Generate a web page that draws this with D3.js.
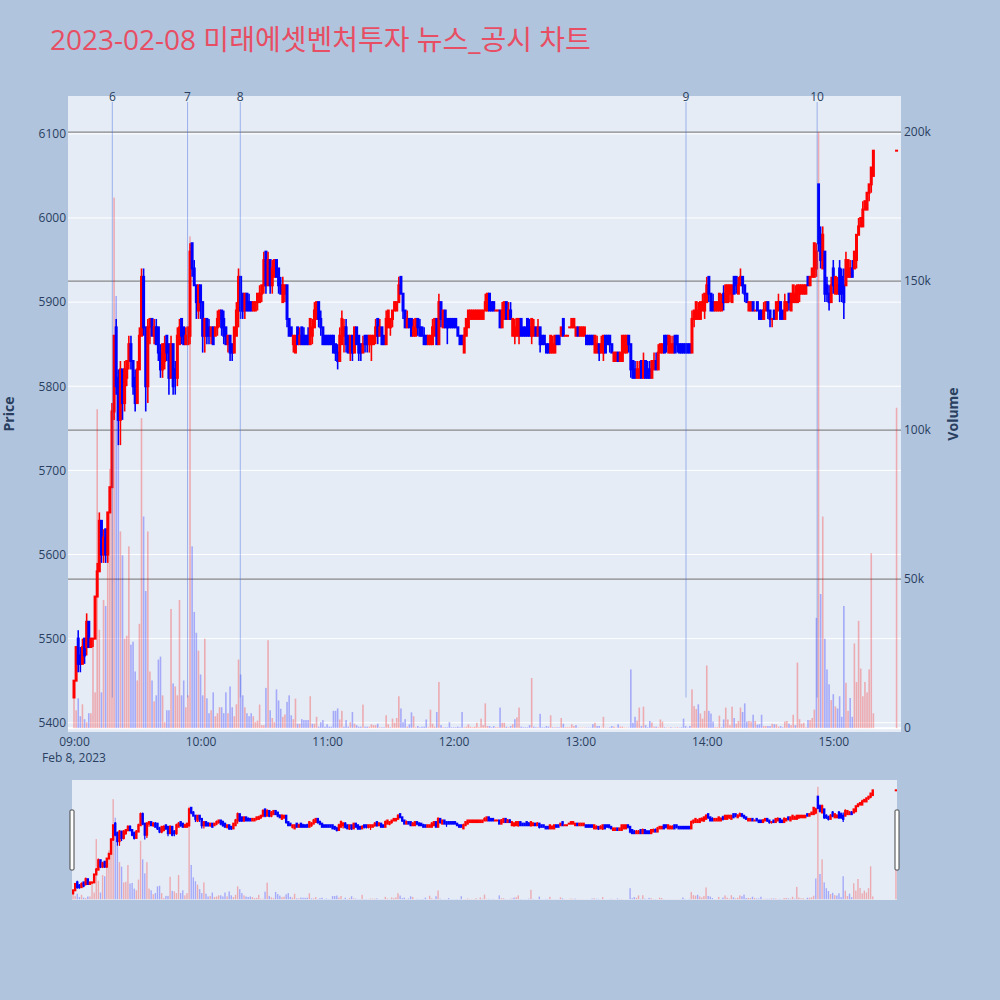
<!DOCTYPE html>
<html>
<head>
<meta charset="utf-8">
<script src="https://cdn.jsdelivr.net/npm/d3@7"></script>
<style>
  body { margin: 0; background: #b0c4de; }
  svg { display: block; font-family: "Open Sans", "Noto Sans CJK KR", sans-serif; }
</style>
</head>
<body>
<div id="chart"></div>
<script>
// title and session
const chartTitle = '2023-02-08 미래에셋벤처투자 뉴스_공시 차트'
const sessionStart = '2023-02-08 09:00'
const dateLabel = 'Feb 8, 2023'

// one-minute candles from 09:00 (10 per line)
const opens = [
  5430,5450,5500,5480,5470,5500,5490,5520,5490,5500,
  5500,5550,5580,5640,5600,5630,5600,5650,5680,5770,
  5870,5810,5760,5820,5780,5810,5830,5850,5830,5810,
  5780,5820,5860,5930,5870,5800,5870,5880,5860,5870,
  5870,5840,5820,5830,5860,5850,5810,5850,5820,5810,
  5850,5880,5870,5850,5850,5860,5970,5940,5920,5890,
  5920,5900,5860,5880,5870,5860,5870,5860,5870,5880,
  5890,5880,5870,5850,5860,5850,5840,5860,5890,5930,
  5910,5890,5910,5900,5900,5890,5890,5900,5900,5910,
  5920,5960,5920,5950,5920,5930,5950,5940,5920,5900,
  5910,5920,5880,5870,5850,5840,5870,5850,5870,5860,
  5860,5860,5850,5860,5870,5880,5900,5880,5870,5860,
  5860,5860,5860,5860,5850,5840,5830,5850,5860,5870,
  5860,5840,5860,5840,5870,5860,5850,5840,5860,5860,
  5850,5850,5850,5860,5880,5860,5870,5860,5850,5870,
  5870,5880,5890,5890,5900,5930,5910,5890,5870,5880,
  5880,5860,5860,5880,5870,5870,5860,5860,5850,5850,
  5850,5860,5880,5850,5900,5870,5890,5880,5880,5880,
  5880,5880,5870,5860,5860,5840,5860,5870,5880,5880,
  5880,5880,5880,5880,5880,5890,5890,5910,5900,5900,
  5890,5890,5890,5870,5880,5900,5880,5890,5860,5860,
  5860,5860,5880,5870,5870,5880,5870,5860,5860,5870,
  5860,5870,5860,5860,5850,5850,5840,5840,5840,5860,
  5860,5860,5880,5860,5860,5870,5870,5870,5860,5870,
  5860,5860,5860,5860,5860,5860,5860,5840,5840,5850,
  5840,5840,5860,5860,5860,5850,5830,5830,5840,5830,
  5830,5840,5840,5860,5850,5830,5820,5810,5810,5830,
  5810,5830,5820,5820,5810,5820,5830,5820,5840,5840,
  5860,5860,5840,5840,5840,5860,5860,5850,5850,5850,
  5850,5850,5850,5840,5880,5880,5880,5880,5890,5890,
  5900,5930,5910,5900,5890,5890,5890,5890,5910,5900,
  5900,5910,5900,5930,5930,5910,5920,5930,5920,5910,
  5890,5890,5900,5890,5900,5890,5890,5880,5890,5900,
  5890,5880,5890,5880,5890,5900,5890,5880,5890,5910,
  5890,5900,5900,5900,5910,5910,5910,5910,5930,5920,
  5930,5930,5940,6040,5980,5940,5960,5920,5910,5900,
  5940,5910,5910,5940,5930,5920,5920,5930,5930,5940,
  5940,5950,5980,5990,5990,6010,6010,6030,6040,6050
]
const highs = [
  5450,5490,5510,5490,5500,5500,5530,5520,5500,5500,
  5550,5590,5650,5640,5630,5630,5650,5680,5780,5860,
  5880,5820,5830,5820,5830,5830,5860,5860,5830,5820,
  5830,5870,5940,5940,5870,5880,5880,5880,5880,5880,
  5870,5850,5850,5860,5860,5850,5860,5850,5830,5870,
  5880,5880,5870,5870,5870,5970,5970,5950,5920,5920,
  5920,5900,5880,5880,5880,5870,5870,5870,5890,5890,
  5890,5890,5870,5860,5860,5850,5870,5900,5940,5930,
  5910,5910,5910,5910,5900,5900,5900,5910,5920,5920,
  5960,5960,5960,5950,5950,5950,5950,5940,5930,5930,
  5920,5920,5880,5870,5860,5860,5870,5870,5870,5870,
  5860,5870,5880,5880,5900,5900,5900,5890,5870,5860,
  5860,5860,5860,5860,5850,5850,5870,5890,5880,5880,
  5860,5860,5860,5870,5870,5860,5850,5860,5860,5860,
  5860,5860,5860,5880,5880,5880,5870,5860,5890,5890,
  5880,5890,5900,5900,5930,5930,5910,5890,5890,5880,
  5880,5880,5880,5880,5880,5870,5870,5860,5860,5860,
  5880,5880,5880,5910,5900,5890,5890,5880,5880,5880,
  5880,5880,5870,5860,5860,5870,5880,5890,5890,5890,
  5890,5890,5890,5890,5890,5910,5910,5910,5900,5900,
  5890,5890,5890,5900,5900,5900,5900,5900,5880,5880,
  5880,5880,5880,5870,5870,5880,5880,5880,5880,5870,
  5880,5870,5860,5860,5850,5850,5860,5860,5860,5860,
  5860,5870,5880,5860,5860,5870,5880,5880,5870,5870,
  5870,5870,5870,5860,5860,5860,5860,5860,5860,5850,
  5860,5860,5860,5860,5860,5850,5840,5840,5840,5840,
  5860,5860,5860,5860,5850,5830,5830,5830,5830,5830,
  5840,5830,5830,5830,5830,5840,5840,5850,5850,5850,
  5860,5860,5860,5860,5860,5860,5860,5850,5850,5850,
  5850,5850,5850,5890,5890,5900,5900,5900,5910,5910,
  5930,5930,5910,5910,5900,5900,5910,5910,5920,5920,
  5920,5920,5920,5930,5930,5930,5940,5930,5920,5910,
  5900,5900,5900,5890,5900,5890,5890,5900,5900,5900,
  5890,5880,5890,5900,5910,5900,5890,5910,5900,5910,
  5910,5920,5920,5920,5920,5920,5920,5920,5930,5930,
  5940,5970,5970,6040,5990,5990,5960,5930,5920,5930,
  5950,5930,5930,5950,5940,5940,5960,5950,5950,5950,
  5960,5980,6000,6000,6020,6020,6030,6040,6060,6080
]
const lows = [
  5430,5450,5460,5460,5470,5470,5480,5490,5490,5490,
  5500,5550,5580,5590,5590,5590,5590,5650,5680,5760,
  5790,5730,5730,5760,5770,5800,5820,5820,5790,5770,
  5780,5820,5860,5860,5770,5780,5850,5860,5850,5850,
  5830,5810,5810,5820,5830,5790,5810,5790,5790,5800,
  5850,5850,5850,5850,5850,5850,5930,5920,5880,5880,
  5880,5840,5840,5850,5850,5850,5850,5860,5860,5870,
  5860,5850,5850,5840,5830,5830,5840,5860,5870,5880,
  5880,5880,5890,5890,5890,5890,5890,5890,5900,5900,
  5910,5910,5920,5910,5910,5930,5930,5910,5910,5900,
  5900,5870,5860,5860,5840,5840,5850,5850,5850,5850,
  5850,5850,5850,5850,5870,5880,5870,5860,5850,5850,
  5850,5850,5850,5840,5830,5820,5830,5850,5840,5840,
  5840,5830,5830,5840,5850,5830,5830,5840,5840,5840,
  5840,5830,5850,5850,5850,5860,5850,5850,5850,5870,
  5860,5870,5890,5890,5900,5910,5880,5870,5870,5870,
  5860,5860,5860,5860,5860,5860,5850,5850,5850,5850,
  5850,5860,5850,5850,5870,5870,5870,5850,5870,5870,
  5870,5870,5860,5850,5850,5840,5860,5870,5880,5880,
  5880,5880,5880,5880,5880,5890,5890,5890,5890,5890,
  5890,5890,5870,5870,5880,5880,5880,5880,5860,5850,
  5860,5850,5860,5860,5860,5860,5860,5850,5860,5860,
  5860,5840,5850,5850,5840,5840,5840,5840,5840,5850,
  5850,5860,5860,5860,5860,5870,5870,5870,5860,5860,
  5860,5860,5860,5850,5850,5850,5850,5840,5840,5830,
  5840,5830,5840,5850,5840,5840,5830,5830,5830,5830,
  5830,5840,5840,5840,5810,5810,5810,5810,5810,5810,
  5810,5810,5810,5810,5810,5820,5820,5820,5840,5840,
  5840,5840,5840,5840,5840,5840,5840,5840,5840,5840,
  5840,5840,5840,5840,5870,5880,5880,5880,5890,5880,
  5900,5900,5890,5890,5890,5890,5890,5890,5890,5900,
  5900,5900,5900,5910,5910,5910,5920,5910,5900,5900,
  5890,5890,5890,5890,5890,5880,5880,5880,5890,5880,
  5870,5870,5880,5880,5890,5880,5880,5880,5890,5890,
  5890,5900,5900,5900,5900,5910,5910,5910,5920,5920,
  5930,5930,5930,5960,5940,5940,5900,5900,5890,5900,
  5910,5910,5910,5900,5900,5880,5920,5930,5930,5930,
  5940,5940,5980,5990,5990,6010,6010,6020,6030,6050
]
const closes = [
  5450,5490,5470,5470,5490,5480,5520,5490,5500,5500,
  5550,5580,5640,5600,5620,5600,5650,5680,5770,5860,
  5800,5760,5820,5780,5820,5830,5850,5830,5800,5780,
  5820,5860,5930,5870,5800,5870,5880,5860,5870,5850,
  5840,5820,5850,5850,5840,5810,5850,5800,5810,5860,
  5870,5860,5850,5860,5870,5960,5940,5920,5900,5920,
  5900,5860,5880,5860,5860,5870,5850,5870,5880,5890,
  5870,5860,5850,5860,5840,5840,5870,5890,5930,5890,
  5890,5910,5890,5890,5890,5900,5900,5910,5910,5920,
  5950,5920,5950,5920,5940,5950,5930,5920,5910,5920,
  5920,5880,5860,5860,5860,5860,5850,5860,5850,5850,
  5850,5850,5880,5870,5890,5900,5880,5870,5850,5850,
  5850,5850,5850,5840,5840,5830,5860,5880,5870,5850,
  5840,5860,5840,5870,5850,5840,5840,5850,5850,5850,
  5860,5860,5860,5870,5860,5870,5850,5850,5880,5890,
  5880,5890,5900,5900,5920,5910,5890,5870,5880,5870,
  5860,5870,5880,5870,5860,5860,5850,5850,5860,5860,
  5870,5880,5850,5900,5880,5890,5870,5870,5870,5870,
  5870,5870,5860,5850,5850,5860,5880,5890,5890,5890,
  5890,5890,5890,5890,5890,5900,5910,5890,5890,5890,
  5890,5890,5870,5890,5900,5880,5890,5880,5880,5870,
  5880,5880,5860,5860,5860,5860,5860,5880,5870,5860,
  5870,5850,5850,5850,5840,5840,5860,5850,5860,5850,
  5850,5870,5860,5860,5860,5870,5880,5880,5870,5860,
  5870,5870,5870,5850,5850,5850,5850,5860,5850,5840,
  5850,5860,5840,5850,5850,5840,5840,5840,5830,5840,
  5860,5860,5860,5850,5820,5810,5810,5820,5820,5810,
  5830,5810,5810,5810,5830,5830,5820,5840,5850,5850,
  5840,5850,5860,5850,5850,5840,5850,5840,5840,5840,
  5840,5840,5840,5880,5890,5900,5890,5900,5900,5910,
  5920,5910,5890,5890,5900,5900,5910,5900,5900,5920,
  5920,5920,5920,5910,5920,5920,5930,5920,5910,5900,
  5900,5900,5890,5890,5890,5880,5880,5890,5900,5890,
  5880,5880,5880,5900,5900,5880,5880,5900,5900,5900,
  5910,5920,5910,5920,5920,5920,5920,5920,5920,5930,
  5940,5970,5960,5970,5950,5980,5910,5910,5900,5920,
  5920,5930,5920,5910,5910,5900,5950,5950,5940,5930,
  5960,5980,5990,6000,6010,6020,6030,6040,6060,6080
]
// volume per minute, thousands of shares
const volumesK = [
  10,6,10,4,8,3,2,5,5,30,
  12,107,33,12,43,41,60,87,107,178,
  145,95,66,58,30,31,61,28,29,19,
  16,35,104,71,46,66,19,16,9,11,
  23,24,11,2,6,6,40,15,14,11,
  43,11,16,7,11,165,61,39,32,26,
  18,11,30,10,5,6,12,4,5,7,
  7,5,12,5,14,7,4,8,23,18,
  11,7,5,4,5,4,2,2.5,7.9,1,
  1,13.5,29.5,6,3.4,2,13,9.3,6.5,3.8,
  4.6,8.8,11,4.3,3,9.9,1.5,1.5,3,2.7,
  2.7,2.7,10.7,1.5,1.5,3.8,0.5,2,2.7,0.5,
  1.3,0.5,0.5,5.8,5.8,6.6,2.9,5.8,0.5,2.7,
  0.5,2,5.4,1.5,1,0.5,0.5,7.9,0.5,0.5,
  0.5,1.3,1,1,1.5,0.3,0.3,0.3,4.3,1.3,
  0.3,3.2,1.8,3.4,10.7,6.6,2,3,0.5,1.3,
  5.3,4,0.3,0.7,0.3,0.5,0.5,2.9,0.3,6.2,
  1.5,0.5,5.4,15.5,1,0.3,0.3,0.3,2,0.3,
  0.3,0.3,0.5,0.3,5.4,0.3,0.5,1.3,0.5,0.3,
  0.5,1.8,0.3,3.2,1,8.3,0.7,0.7,0.3,0.7,
  0.3,0.3,6.9,1.8,1.8,0.5,0.3,0.7,1.3,3,
  3.6,6.9,0.5,0.3,0.3,0.3,1,16.8,0.5,0.3,
  0.3,4.8,0.3,0.3,0.7,0.5,4.3,0.3,0.3,0.3,
  0.3,3.4,1.5,0.3,0.3,0.3,1.3,0.7,1,0.2,
  0.2,0.2,0.2,0.2,0.2,0.2,1.3,1.8,0.7,0.7,
  0.2,3.8,0.2,0.2,0.3,0.7,0.5,0.2,1.3,0.5,
  0.5,0.2,0.2,0.2,19.7,1.8,3.8,2.5,6.9,0.7,
  7.2,1,0.3,2.4,1.9,0.5,0.5,0.3,2.9,2.2,
  0.3,0.2,0.2,0.3,0.2,0.2,0.3,0.2,0.3,3.2,
  0.7,0.2,0.7,13,7.4,6.4,8,4.9,3.2,5.8,
  21,5.8,4.9,2.2,0.3,0.3,4.2,0.3,2.9,6.9,
  2.9,1,7.2,3.4,1.5,2.4,6.9,5.4,8.3,2.2,
  2.4,2.2,4.5,2.4,1.2,1.3,4.5,0.7,0.7,0.7,
  0.7,1.5,1.3,1.3,0.5,0.7,0.3,2.2,2.4,1.5,
  1,4.5,1,22,3,1.5,1.8,0.3,2.7,2.7,
  3.4,6.2,37,200,45,71,30,19.7,14.7,9.4,
  11.4,7.3,6.6,10.7,3.8,41,15.2,5.8,10.1,3.8,
  28.4,15.5,36,20,10.7,15.5,12,19.7,58.7,5
]

// closing auction print
const auctionTime = '2023-02-08 15:30'
const auctionPrice = 6080
const auctionVolumeK = 107.5

// news / disclosure markers
const newsTimes = ['2023-02-08 09:18:10', '2023-02-08 09:53:50', '2023-02-08 10:18:50', '2023-02-08 13:50:10', '2023-02-08 14:52:20']
const newsLabels = ['6', '7', '8', '9', '10']

// ticks
const priceTicks = [5400, 5500, 5600, 5700, 5800, 5900, 6000, 6100]
const volumeTicks = [0, 50, 100, 150, 200]
const hourTicks = ['09:00', '10:00', '11:00', '12:00', '13:00', '14:00', '15:00']

// layout
const W = 1000, H = 1000
const plot = { left: 68, right: 901, top: 96, bottom: 732 }
const slider = { left: 72, right: 897, top: 780, bottom: 900 }
const fontColor = '#2a3f5f'
const upColor = 'red', downColor = 'blue'

const parseMin = d3.timeParse('%Y-%m-%d %H:%M')
const parseSec = d3.timeParse('%Y-%m-%d %H:%M:%S')
const t0 = parseMin(sessionStart)

const candles = opens.map((o, i) => ({
  time: d3.timeMinute.offset(t0, i), open: o, high: highs[i], low: lows[i], close: closes[i], vol: volumesK[i]
}))
candles.push({ time: parseMin(auctionTime), open: auctionPrice, high: auctionPrice, low: auctionPrice, close: auctionPrice, vol: auctionVolumeK })
candles.forEach((d, i) => {
  const prev = i ? candles[i - 1].close : d.open
  d.up = d.close > d.open || (d.close === d.open && d.close >= prev)
  d.volUp = d.close > prev || (d.close === prev && d.up)
})
const lastTime = candles[candles.length - 1].time

// scales
const x = d3.scaleTime().domain([d3.timeSecond.offset(t0, -171), d3.timeSecond.offset(lastTime, 126)]).range([plot.left, plot.right])
const yPrice = d3.scaleLinear().domain([5389, 6145]).range([plot.bottom, plot.top])
const yVol = d3.scaleLinear().domain([-1.3, 212.1]).range([plot.bottom, plot.top])
const xs = d3.scaleTime().domain([d3.timeSecond.offset(t0, -30), d3.timeSecond.offset(lastTime, 30)]).range([slider.left, slider.right])
const yPriceS = yPrice.copy().range([slider.bottom, slider.top])
const yVolS = yVol.copy().range([slider.bottom, slider.top])

// canvas
const svg = d3.select('#chart').append('svg').attr('width', W).attr('height', H)
svg.append('rect').attr('width', W).attr('height', H).attr('fill', '#b0c4de')

const defs = svg.append('defs')
defs.append('clipPath').attr('id', 'clipMain').append('rect')
  .attr('x', plot.left).attr('y', plot.top).attr('width', plot.right - plot.left).attr('height', plot.bottom - plot.top)
defs.append('clipPath').attr('id', 'clipSlider').append('rect')
  .attr('x', slider.left).attr('y', slider.top).attr('width', slider.right - slider.left).attr('height', slider.bottom - slider.top)

// title
svg.append('text').attr('x', 50).attr('y', 50).attr('fill', '#e84e63').attr('font-size', 28).text(chartTitle)

// plot background and grids
svg.append('rect').attr('x', plot.left).attr('y', plot.top)
  .attr('width', plot.right - plot.left).attr('height', plot.bottom - plot.top).attr('fill', '#e5ecf6')

svg.append('g').selectAll('line').data(priceTicks).join('line')
  .attr('x1', plot.left).attr('x2', plot.right)
  .attr('y1', d => yPrice(d)).attr('y2', d => yPrice(d))
  .attr('stroke', '#fff').attr('stroke-width', 1)

svg.append('g').selectAll('line').data(volumeTicks).join('line')
  .attr('x1', plot.left).attr('x2', plot.right)
  .attr('y1', d => yVol(d)).attr('y2', d => yVol(d))
  .attr('stroke', d => d === 0 ? '#fff' : '#888').attr('stroke-width', d => d === 0 ? 2 : 1.2)

// draws volume bars + candles into a group
function drawSeries(g, xScale, yP, yV, barW, bodyW, wickW) {
  g.append('g').selectAll('rect').data(candles).join('rect')
    .attr('x', d => xScale(d.time) - barW / 2).attr('width', barW)
    .attr('y', d => yV(d.vol)).attr('height', d => yV(0) - yV(d.vol))
    .attr('fill', d => d.volUp ? upColor : downColor).attr('opacity', 0.28)

  const c = g.append('g').selectAll('g').data(candles).join('g')
  c.append('line')
    .attr('x1', d => xScale(d.time)).attr('x2', d => xScale(d.time))
    .attr('y1', d => yP(d.high)).attr('y2', d => yP(d.low))
    .attr('stroke', d => d.up ? upColor : downColor).attr('stroke-width', wickW)
  c.append('rect')
    .attr('x', d => xScale(d.time) - bodyW / 2).attr('width', bodyW)
    .attr('y', d => yP(Math.max(d.open, d.close)) - 1)
    .attr('height', d => Math.abs(yP(d.open) - yP(d.close)) + 2)
    .attr('fill', d => d.up ? upColor : downColor)
}

drawSeries(svg.append('g').attr('clip-path', 'url(#clipMain)'), x, yPrice, yVol, 1.6, 3, 1.6)

// news lines
const minLow = d3.min(candles, d => d.low)
const news = newsTimes.map((t, i) => ({ time: parseSec(t), label: newsLabels[i] }))
const newsG = svg.append('g')
newsG.selectAll('line').data(news).join('line')
  .attr('x1', d => x(d.time)).attr('x2', d => x(d.time))
  .attr('y1', plot.top + 6).attr('y2', yPrice(minLow))
  .attr('stroke', 'royalblue').attr('stroke-opacity', 0.45).attr('stroke-width', 1)
newsG.selectAll('text').data(news).join('text')
  .attr('x', d => x(d.time)).attr('y', plot.top + 5)
  .attr('text-anchor', 'middle').attr('font-size', 12).attr('fill', fontColor)
  .text(d => d.label)

// axes
function styleAxis(g) {
  g.select('.domain').remove()
  g.attr('font-family', null).attr('font-size', 12)
  g.selectAll('text').attr('fill', fontColor)
}
svg.append('g').attr('transform', `translate(${plot.left},0)`)
  .call(d3.axisLeft(yPrice).tickValues(priceTicks).tickSize(0).tickPadding(2).tickFormat(d3.format('d'))).call(styleAxis)
svg.append('g').attr('transform', `translate(${plot.right},0)`)
  .call(d3.axisRight(yVol).tickValues(volumeTicks).tickSize(0).tickPadding(3)
    .tickFormat(d => d === 0 ? '0' : d + 'k')).call(styleAxis)
svg.append('g').attr('transform', `translate(0,${plot.bottom})`)
  .call(d3.axisBottom(x).tickValues(hourTicks.map(h => parseMin('2023-02-08 ' + h))).tickSize(0).tickPadding(5)
    .tickFormat(d3.timeFormat('%H:%M'))).call(styleAxis)
svg.append('text').attr('x', x(t0)).attr('y', 762).attr('text-anchor', 'middle')
  .attr('font-size', 12).attr('fill', fontColor).text(dateLabel)

// axis titles
const midY = (plot.top + plot.bottom) / 2
svg.append('text').attr('transform', `translate(14,${midY}) rotate(-90)`).attr('text-anchor', 'middle')
  .attr('font-size', 14).attr('font-weight', 'bold').attr('fill', fontColor).text('Price')
svg.append('text').attr('transform', `translate(958,${midY}) rotate(-90)`).attr('text-anchor', 'middle')
  .attr('font-size', 14).attr('font-weight', 'bold').attr('fill', fontColor).text('Volume')

// range slider
svg.append('rect').attr('x', slider.left).attr('y', slider.top)
  .attr('width', slider.right - slider.left).attr('height', slider.bottom - slider.top).attr('fill', '#e5ecf6')
drawSeries(svg.append('g').attr('clip-path', 'url(#clipSlider)'), xs, yPriceS, yVolS, 1.4, 2.4, 1.2)

const grabY = slider.top + 30, grabH = 60
svg.append('g').selectAll('rect').data([slider.left - 2, slider.right - 2]).join('rect')
  .attr('x', d => d).attr('y', grabY).attr('width', 4).attr('height', grabH)
  .attr('rx', 1).attr('fill', '#fff').attr('stroke', '#444').attr('stroke-width', 1)
</script>
</body>
</html>
